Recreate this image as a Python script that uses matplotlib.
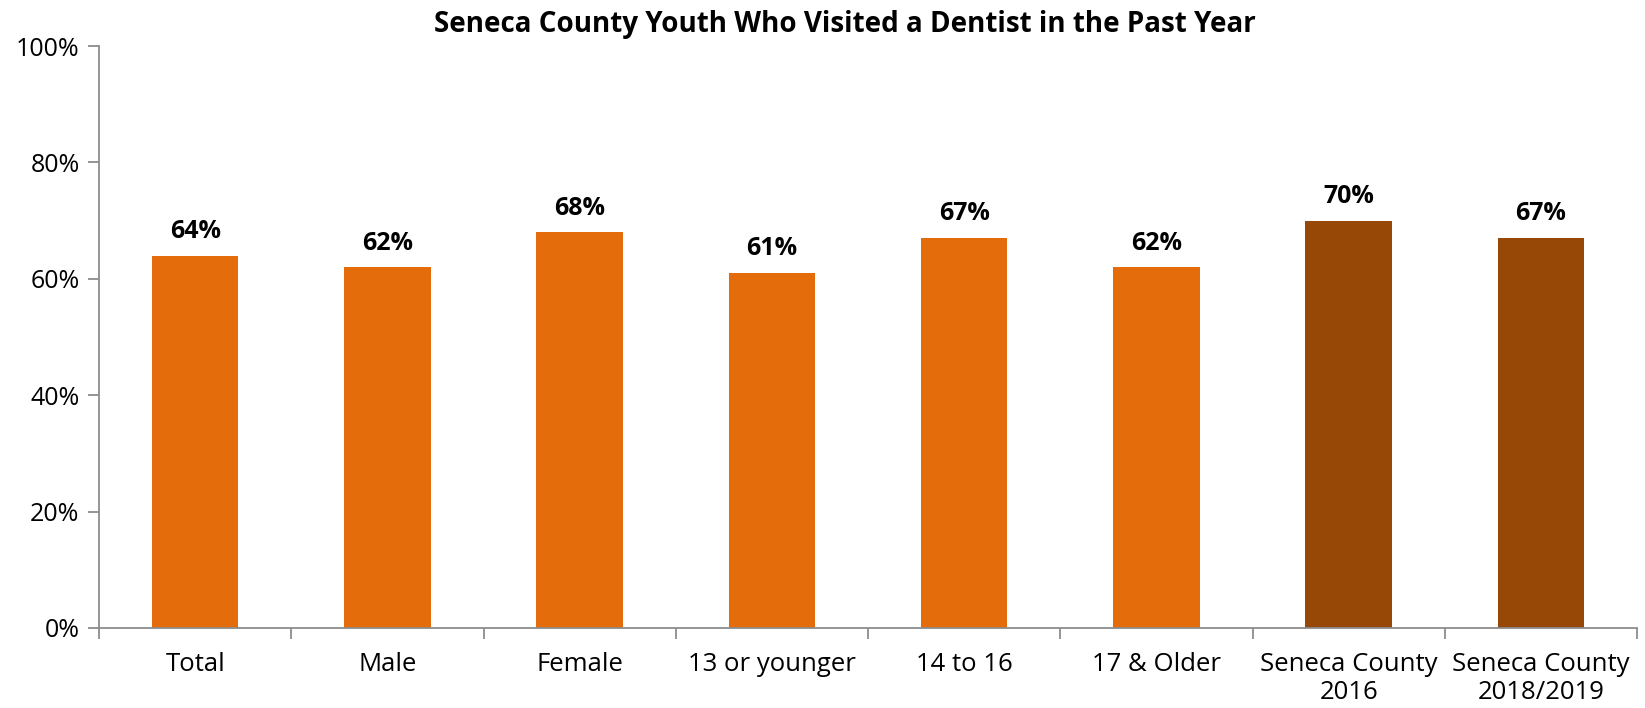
import numpy as np
import matplotlib.pyplot as plt
from matplotlib.ticker import PercentFormatter

plt.rcParams['font.family'] = ['Open Sans', 'DejaVu Sans']

categories = ['Total', 'Male', 'Female', '13 or younger', '14 to 16',
              '17 & Older', 'Seneca County\n2016', 'Seneca County\n2018/2019']
values = [64, 62, 68, 61, 67, 62, 70, 67]
colors = ['#E46C0A'] * 6 + ['#974706'] * 2

fig = plt.figure(figsize=(16.45, 7.08), dpi=100)
ax = fig.add_axes([0.0602, 0.113, 0.935, 0.822])

x = np.arange(len(categories))
bars = ax.bar(x, values, width=0.45, color=colors)
for b, v in zip(bars, values):
    ax.text(b.get_x() + b.get_width() / 2, v + 2.0, f'{v}%', ha='center', va='bottom',
            fontsize=18, fontweight='bold')

ax.set_xlim(-0.5, len(categories) - 0.5)
ax.set_ylim(0, 100)
ax.set_yticks(range(0, 101, 20))
ax.yaxis.set_major_formatter(PercentFormatter(decimals=0))
ax.set_xticks(x)
ax.set_xticklabels(categories, fontsize=18.5, linespacing=1.2)
ax.set_xticks(np.arange(-0.5, len(categories)), minor=True)
ax.tick_params(axis='x', which='major', length=0, pad=17)
ax.tick_params(axis='x', which='minor', length=8, color='#8c8c8c', width=1.3)
ax.tick_params(axis='y', length=8, color='#8c8c8c', width=1.3, labelsize=18, pad=6)

for s in ['top', 'right']:
    ax.spines[s].set_visible(False)
for s in ['left', 'bottom']:
    ax.spines[s].set_color('#8c8c8c')
    ax.spines[s].set_linewidth(1.3)

ax.set_title('Seneca County Youth Who Visited a Dentist in the Past Year',
             fontsize=20, fontweight='bold', pad=10, x=0.485)

plt.savefig('out.png', dpi=100)
